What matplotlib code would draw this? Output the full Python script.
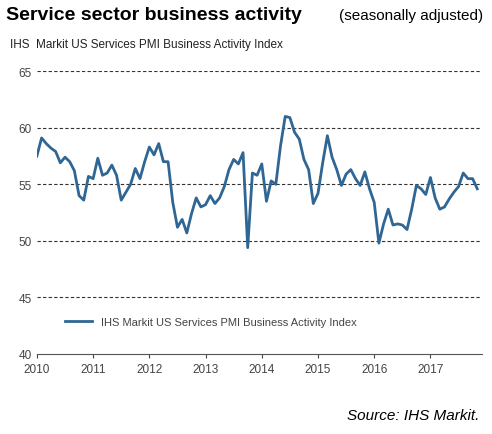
import numpy as np
import matplotlib.pyplot as plt

plt.rcParams['font.family'] = ['Liberation Sans', 'DejaVu Sans']

# Monthly index values, Jan 2010 - Nov 2017
pmi = [57.5, 59.1, 58.6, 58.2, 57.9, 56.9, 57.4, 57.0, 56.2, 54.0, 53.6, 55.7,
       55.5, 57.3, 55.8, 56.0, 56.7, 55.8, 53.6, 54.3, 55.0, 56.4, 55.5, 57.0,
       58.3, 57.6, 58.6, 57.0, 57.0, 53.4, 51.2, 51.9, 50.7, 52.4, 53.8, 53.0,
       53.2, 54.0, 53.3, 53.8, 54.8, 56.3, 57.2, 56.8, 57.8, 49.4, 56.0, 55.8,
       56.8, 53.5, 55.3, 55.0, 58.4, 61.0, 60.9, 59.6, 59.0, 57.2, 56.3, 53.3,
       54.2, 56.9, 59.3, 57.4, 56.3, 54.9, 55.9, 56.3, 55.5, 54.9, 56.1, 54.6,
       53.4, 49.8, 51.5, 52.8, 51.4, 51.5, 51.4, 51.0, 52.8, 54.9, 54.6, 54.1,
       55.6, 53.8, 52.8, 53.0, 53.7, 54.3, 54.8, 56.0, 55.5, 55.5, 54.6]
years = [2010, 2011, 2012, 2013, 2014, 2015, 2016, 2017]
yticks = [40, 45, 50, 55, 60, 65]
label = 'IHS Markit US Services PMI Business Activity Index'

t = 2010 + np.arange(len(pmi)) / 12

fig = plt.figure(figsize=(4.92, 4.35), dpi=100)
ax = fig.add_axes([0.075, 0.184, 0.905, 0.65])
ax.plot(t, pmi, color='#2f6694', lw=2, label=label)

for y in yticks[1:]:
    ax.axhline(y, color='#333333', ls=(0, (3, 2)), lw=0.8, zorder=0)

ax.set_xlim(2010, 2017.92)
ax.set_ylim(40, 65)
ax.set_xticks(years)
ax.set_yticks(yticks)
ax.tick_params(labelsize=8.5, colors='#444444', length=3)
ax.tick_params(axis='y', length=0)
for s in ['top', 'right', 'left']:
    ax.spines[s].set_visible(False)
ax.spines['bottom'].set_color('#555555')

ax.legend(loc='lower left', bbox_to_anchor=(0.04, 0.06), frameon=False,
          fontsize=8, handlelength=2.5, labelcolor='#444444')

title = fig.text(0.012, 0.955, 'Service sector business activity', fontsize=14,
                 fontweight='bold', ha='left', va='baseline')
fig.text(0.69, 0.955, '(seasonally adjusted)', fontsize=11,
         ha='left', va='baseline')
fig.text(0.02, 0.89, 'IHS  Markit US Services PMI Business Activity Index',
         fontsize=8.5, ha='left', va='baseline', color='#222222')
fig.text(0.975, 0.035, 'Source: IHS Markit.', fontsize=11, style='italic',
         ha='right', va='baseline')

fig.savefig('out.png', dpi=100)
